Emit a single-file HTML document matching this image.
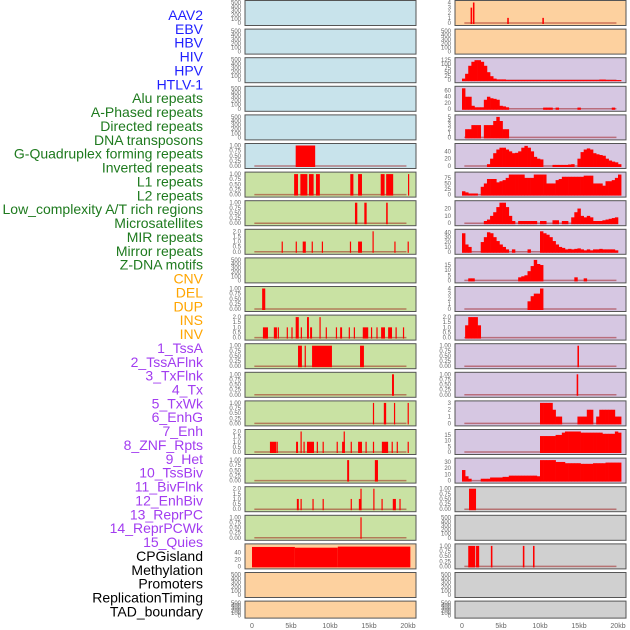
<!DOCTYPE html>
<html><head><meta charset="utf-8"><style>
html,body{margin:0;padding:0;background:#fff;width:630px;height:630px;overflow:hidden}
svg{display:block;font-family:"Liberation Sans",sans-serif}
</style></head><body>
<svg id="chart" width="630" height="630" viewBox="0 0 630 630" xmlns="http://www.w3.org/2000/svg"></svg>
<script>
const labelNames = ["AAV2","EBV","HBV","HIV","HPV","HTLV-1","Alu repeats","A-Phased repeats","Directed repeats","DNA transposons","G-Quadruplex forming repeats","Inverted repeats","L1 repeats","L2 repeats","Low_complexity A/T rich regions","Microsatellites","MIR repeats","Mirror repeats","Z-DNA motifs","CNV","DEL","DUP","INS","INV","1_TssA","2_TssAFlnk","3_TxFlnk","4_Tx","5_TxWk","6_EnhG","7_Enh","8_ZNF_Rpts","9_Het","10_TssBiv","11_BivFlnk","12_EnhBiv","13_ReprPC","14_ReprPCWk","15_Quies","CPGisland","Methylation","Promoters","ReplicationTiming","TAD_boundary"];
const xTickLabels = ["0","5kb","10kb","15kb","20kb"];
const xTickValues = [0,5,10,15,20];
// right-column binned histograms (0.4kb bins)
const binsHIV = [10,40,90,115,125,125,115,90,50,25,10,5,5,5,1,1,1,1,1,1,1,1,1,1,1,1,1,1,1,1,1,1,1,1,1,1,1,1,1,1,1,1,1,1,4,4,1,1,1,1,1];
const binsAlu = [68,40,40,10,5,5,5,30,40,35,33,30,10,8,5,0,0,0,0,0,0,0,0,0,0,0,4,4,4,0,4,0,0,0,0,0,0,4,0,0,0,0,0,0,0,0,0,0,4,0,0];
const binsDirected = [0,2,2,3,3,3,0,3,3,3,4,5,4,2,2,0,0,0,0,0,0,0,0,0,0,0,0,0,0,0,0,0,0,0,0,0,0,0,0,0,0,0,0,0,0,0,0,0,0,0,0];
const binsG4 = [0,0,0,0,0,0,0,0,5,20,35,45,50,50,45,40,35,36,40,50,55,50,40,25,20,18,0,0,0,3,3,3,3,3,4,5,0,20,38,45,48,45,35,32,30,28,20,15,12,10,5];
const binsInverted = [15,10,5,5,5,0,35,50,70,70,70,55,60,65,75,90,90,90,90,90,75,75,75,90,90,90,90,50,50,50,65,70,80,80,80,80,80,80,80,85,85,85,50,50,50,40,60,60,65,75,90];
const binsLowComp = [0,0,0,0,0,0,0,3,5,10,15,22,28,28,22,10,3,0,3,3,3,3,3,3,0,3,3,0,0,4,4,0,3,3,0,8,15,20,10,8,10,8,3,3,3,4,5,6,7,8,0];
const binsMicro = [38,15,10,0,0,0,20,30,40,38,30,22,15,10,5,0,5,0,0,0,0,5,0,0,0,42,38,35,30,22,15,10,8,5,6,5,6,7,5,3,5,3,5,5,6,5,5,5,5,3,0];
const binsMIR = [0,0,2,2,0,0,0,0,0,0,0,0,0,0,0,0,0,0,3,4,5,9,14,20,16,15,0,0,0,0,0,0,0,0,0,0,3,0,0,2,0,0,0,0,0,0,0,0,0,0,0];
const binsMirror = [0,0,0,0,0,0,0,0,0,0,0,0,0,0,0,0,0,0,0,0,0,1.5,2.5,3,3,4,0,0,0,0,0,0,0,0,0,0,0,0,0,0,0,0,0,0,0,0,0,0,0,0,0];
const binsZDNA = [0,1.2,2,2,2,1.2,0,0,0,0,0,0,0,0,0,0,0,0,0,0,0,0,0,0,0,0,0,0,0,0,0,0,0,0,0,0,0,0,0,0,0,0,0,0,0,0,0,0,0,0,0];
const binsDUP = [0,0,0,0,0,0,0,0,0,0,0,0,0,0,0,0,0,0,0,0,0,0,0,0,0,3,3,3,3,2,1,1,0,0,0,0,0,1,1,1,2,2,0,1,2,2,2,2,2,1,1];
const binsINS = [0,0,0,0,0,0,0,0,0,0,0,0,0,0,0,0,0,0,0,0,0,0,0,0,0,14,14,14,14,14,15,15,17,18,18,18,18,18,17,17,17,17,17,17,17,16,16,16,16,18,17];
const binsINV = [17,7,3,0,0,0,3,3,3,5,5,5,5,6,6,8,8,8,8,8,8,8,8,8,7,33,33,33,33,33,30,30,30,28,28,28,28,28,27,27,27,27,28,28,28,28,29,29,29,29,29];
// sparse bars: [startKb, endKb, value]
const barsAAV2 = [[1.1,1.3,3],[1.4,1.6,4],[5.8,6.0,1],[10.3,10.5,1]];
const barsCNV = [[14.8,15.0,1]];
const barsDEL = [[14.7,14.9,1]];
const barsR17 = [[0.9,1.8,1]];
const barsR19 = [[0.8,1.7,1],[1.8,2.2,1],[3.7,3.9,1],[7.8,8.0,1],[9.1,9.3,1]];
const barsG4L = [[5.6,8.1,1]];
const barsL1 = [[5.4,5.9,1],[6.2,7.1,1],[7.3,7.9,1],[8.2,8.7,1],[12.6,13.0,1],[13.6,14.1,1],[16.5,17.0,1],[17.2,18.1,1],[20.0,20.1,1]];
const barsL2 = [[13.2,13.5,1],[14.4,14.7,1],[17.2,17.4,1]];
const barsLowL = [[3.8,3.95,1],[5.6,5.75,1],[6.5,6.9,1],[7.65,7.8,1],[8.95,9.1,1],[12.55,12.7,1],[13.6,14.1,1],[15.45,15.6,2],[18.25,18.4,1],[19.95,20.1,1]];
const barsDELL = [[1.3,1.7,1]];
const barsDUPL = [[1.4,2.05,1],[2.8,3.2,1],[3.3,3.45,1],[4.45,4.6,1],[5.05,5.2,1],[5.6,6.0,2],[6.25,6.4,1],[7.05,7.3,2],[7.45,7.7,1],[8.65,8.8,2],[9.45,9.6,1],[10.75,10.9,1],[11.3,11.55,1],[12.4,12.55,1],[13.05,13.2,1],[14.2,14.9,1],[15.25,15.4,1],[15.95,16.1,1],[16.55,17.05,1],[17.45,17.95,1],[18.4,18.55,1],[19.35,19.5,1]];
const barsINSL = [[5.9,6.4,1],[6.75,6.9,1],[7.7,10.25,1],[13.85,14.35,1]];
const barsINVL = [[17.95,18.2,1]];
const barsTssA = [[15.5,15.65,1],[16.9,17.2,1],[18.2,18.35,1],[19.95,20.1,1]];
const barsTssAF = [[2.3,3.1,1],[3.15,3.3,1],[5.65,5.9,1],[6.22,6.36,2],[6.6,6.75,1],[7.05,7.95,1],[8.3,8.45,1],[9.05,9.2,1],[10.85,11.0,1],[11.55,11.9,1],[11.75,11.9,2],[12.65,12.8,1],[13.6,14.1,1],[14.55,14.7,1],[15.5,15.65,1],[16.65,17.45,1],[17.9,18.05,1],[18.55,18.7,1],[19.95,20.1,1]];
const barsTxFlnk = [[12.2,12.45,1],[15.75,16.15,1]];
const barsTx = [[5.75,6.0,1],[6.22,6.36,1],[7.75,7.9,1],[9.05,9.2,1],[12.65,12.8,1],[13.7,14.0,1],[13.9,14.05,2],[15.55,15.7,2],[16.6,16.75,1],[18.05,18.45,1],[18.9,19.05,1]];
const barsTxWk = [[13.9,14.05,1]];
const barsCPG = [[0,5.5,55],[5.5,11,53],[11,20.3,56]];

const leftPanels = [
 {bg:"#c8e3eb",ticks:"e"},{bg:"#c8e3eb",ticks:"e"},{bg:"#c8e3eb",ticks:"e"},{bg:"#c8e3eb",ticks:"e"},{bg:"#c8e3eb",ticks:"e"},
 {bg:"#c8e3eb",ticks:"01",bars:barsG4L},
 {bg:"#c9e2a3",ticks:"01",bars:barsL1},{bg:"#c9e2a3",ticks:"01",bars:barsL2},{bg:"#c9e2a3",ticks:"02",bars:barsLowL},
 {bg:"#c9e2a3",ticks:"e"},{bg:"#c9e2a3",ticks:"01",bars:barsDELL},{bg:"#c9e2a3",ticks:"02",bars:barsDUPL},
 {bg:"#c9e2a3",ticks:"01",bars:barsINSL},{bg:"#c9e2a3",ticks:"01",bars:barsINVL},{bg:"#c9e2a3",ticks:"01",bars:barsTssA},
 {bg:"#c9e2a3",ticks:"02",bars:barsTssAF},{bg:"#c9e2a3",ticks:"01",bars:barsTxFlnk},{bg:"#c9e2a3",ticks:"02",bars:barsTx},
 {bg:"#c9e2a3",ticks:"01",bars:barsTxWk},
 {bg:"#fdd19f",ticks:[0,20,40],ymax:58,bars:barsCPG},{bg:"#fdd19f",ticks:"e"},{bg:"#fdd19f",ticks:"e",short:true}
];
const rightPanels = [
 {bg:"#fdd19f",ticks:[0,1,2,3,4],ymax:4,bars:barsAAV2},{bg:"#fdd19f",ticks:"e"},
 {bg:"#d6c7e2",ticks:[0,25,50,75,100,125],ymax:128,bins:binsHIV},
 {bg:"#d6c7e2",ticks:[0,20,40,60],ymax:68,bins:binsAlu},
 {bg:"#d6c7e2",ticks:[0,1,2,3,4,5],ymax:5,bins:binsDirected},
 {bg:"#d6c7e2",ticks:[0,20,40],ymax:56,bins:binsG4},
 {bg:"#d6c7e2",ticks:[0,25,50,75],ymax:92,bins:binsInverted},
 {bg:"#d6c7e2",ticks:[0,10,20],ymax:28,bins:binsLowComp},
 {bg:"#d6c7e2",ticks:[0,10,20,30,40],ymax:42,bins:binsMicro},
 {bg:"#d6c7e2",ticks:[0,5,10,15],ymax:20,bins:binsMIR},
 {bg:"#d6c7e2",ticks:[0,1,2,3,4],ymax:4,bins:binsMirror},
 {bg:"#d6c7e2",ticks:"02",bins:binsZDNA},
 {bg:"#d6c7e2",ticks:"01",bars:barsCNV},{bg:"#d6c7e2",ticks:"01",bars:barsDEL},
 {bg:"#d6c7e2",ticks:[0,1,2,3],ymax:3,bins:binsDUP},
 {bg:"#d6c7e2",ticks:[0,5,10,15],ymax:18,bins:binsINS},
 {bg:"#d6c7e2",ticks:[0,10,20,30],ymax:33,bins:binsINV},
 {bg:"#d0d0d0",ticks:"01",bars:barsR17},{bg:"#d0d0d0",ticks:"e"},
 {bg:"#d0d0d0",ticks:"01",bars:barsR19},{bg:"#d0d0d0",ticks:"e"},{bg:"#d0d0d0",ticks:"e",short:true}
];

const NS="http://www.w3.org/2000/svg";
const svg=document.getElementById('chart');
function mk(tag,attrs,parent){const e=document.createElementNS(NS,tag);for(const k in attrs)e.setAttribute(k,attrs[k]);(parent||svg).appendChild(e);return e;}

// labels
const labelColor=i=> i<6?"#1f1fff": i<19?"#1e7a1e": i<24?"#ffa500": i<39?"#a23cf0":"#000";
labelNames.forEach((n,i)=>{
  const t=mk('text',{x:203,y:15+i*13.87+5,'text-anchor':'end','font-size':14,fill:labelColor(i)});
  
  
  t.textContent=n;
});

function drawColumn(panels,boxL,boxR,x0,tickX,colName){
  const xs=kb=>x0+kb*7.8;
  panels.forEach((p,i)=>{
    const top=0.5+i*28.6, H=p.short?17:25;
    const g=mk('g',{});
    
    
    const r=mk('rect',{x:boxL,y:top,width:boxR-boxL,height:H,fill:p.bg,stroke:'#555','stroke-width':1},g);
    
    
    let ticks,ymax,fmt;
    if(p.ticks==="e"){ticks=[0,100,200,300,400,500];ymax=500;fmt=v=>String(v);}
    else if(p.ticks==="01"){ticks=[0,0.25,0.5,0.75,1];ymax=1;fmt=v=>v.toFixed(2);}
    else if(p.ticks==="02"){ticks=[0,0.5,1,1.5,2];ymax=2;fmt=v=>v.toFixed(1);}
    else {ticks=p.ticks;ymax=p.ymax;fmt=v=>String(v);}
    const y0=top+H-2.5, yt=top+2;
    const ys=v=>y0-v/ymax*(y0-yt);
    ticks.forEach(v=>{
      const t=mk('text',{x:tickX,y:ys(v)+2,'text-anchor':'end','font-size':6,fill:'#666'},g);
      
      
      t.textContent=fmt(v);
    });
    if(p.ticks==="e") return;
    const bl=mk('line',{x1:xs(0.3),x2:xs(19.8),y1:y0,y2:y0,stroke:'rgba(150,0,0,0.45)','stroke-width':1.5},g);
    
    
    if(p.bins){
      p.bins.forEach((v,k)=>{
        if(v<=0) return;
        const b=mk('rect',{x:xs(k*0.4),y:ys(v),width:xs((k+1)*0.4)-xs(k*0.4)+0.3,height:y0-ys(v)+1,fill:'#ff0000'},g);
        
        
      });
    }
    if(p.bars){
      p.bars.forEach(d=>{
        const w=Math.max(xs(d[1])-xs(d[0]),1.2);
        const b=mk('rect',{x:xs(d[0]),y:ys(d[2]),width:w,height:y0-ys(d[2])+1,fill:'#ff0000'},g);
        
        
      });
    }
  });
  xTickValues.forEach((v,k)=>{
    const t=mk('text',{x:xs(v),y:628,'text-anchor':'middle','font-size':7,fill:'#666'});
    
    
    t.textContent=xTickLabels[k];
  });
}
drawColumn(leftPanels,245,416,252,241,'left');
drawColumn(rightPanels,455,626,462,451,'right');
</script>
</body></html>
